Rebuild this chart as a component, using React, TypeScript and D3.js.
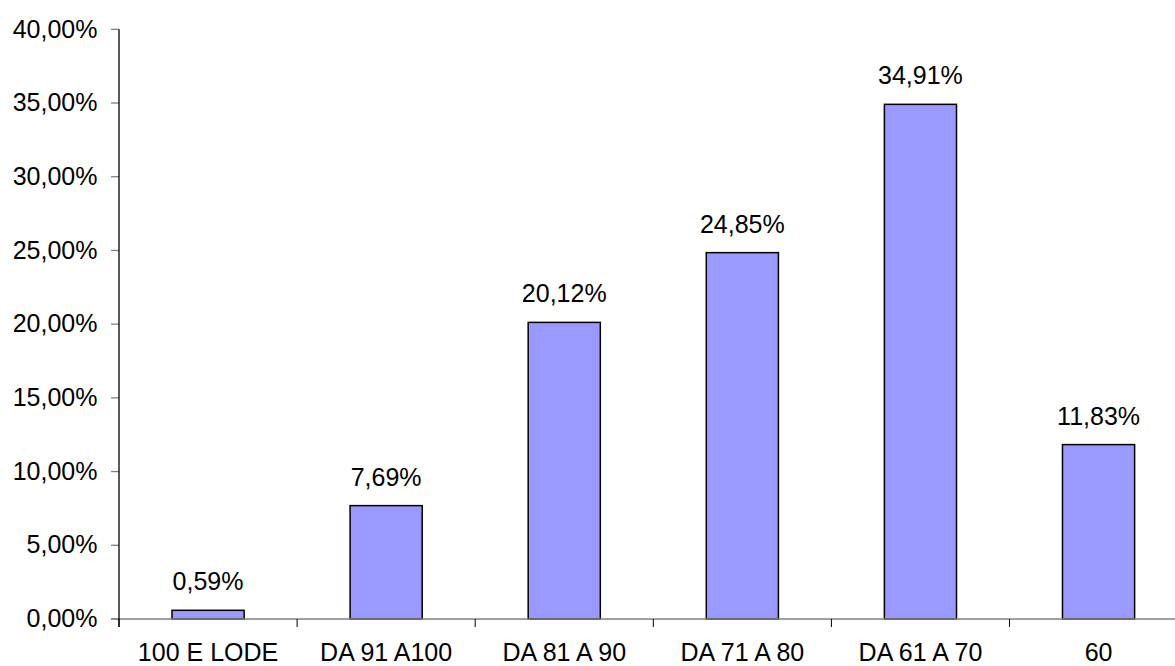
import React from "react";
import * as d3 from "d3";

const categories = ["100 E LODE", "DA 91 A100", "DA 81 A 90", "DA 71 A 80", "DA 61 A 70", "60"];
const values = [0.59, 7.69, 20.12, 24.85, 34.91, 11.83];
const yTicks = [0, 5, 10, 15, 20, 25, 30, 35, 40];

const W = 1175;
const H = 666;
const left = 119;
const top = 29.3;
const bottom = 619;
const bandW = 178.1;
const FS = 25;

const fmt = (v: number) => v.toFixed(2).replace(".", ",") + "%";

export default function App() {
  const x = d3
    .scaleBand<string>()
    .domain(categories)
    .range([left, left + bandW * categories.length])
    .paddingInner(0.595)
    .paddingOuter(0.595 / 2);
  const y = d3.scaleLinear().domain([0, 40]).range([bottom, top]);
  const font = "'Liberation Sans', Arial, sans-serif";
  const boundaries = d3.range(categories.length + 1).map((i) => left + i * bandW);

  return (
    <svg
      width={W}
      height={H}
      style={{ position: "absolute", left: 0, top: 0, background: "#fff" }}
      fontFamily={font}
    >
      {yTicks.map((t) => (
        <g key={t}>
          <line x1={111} x2={left} y1={y(t)} y2={y(t)} stroke="#808080" strokeWidth={1.3} />
          <text x={97.5} y={y(t) + 8.2} textAnchor="end" fontSize={FS} fill="#000">
            {fmt(t)}
          </text>
        </g>
      ))}
      {categories.map((c, i) => {
        const v = values[i];
        const bx = x(c)!;
        return (
          <g key={c}>
            <rect
              x={bx}
              y={y(v)}
              width={x.bandwidth()}
              height={bottom - y(v)}
              fill="#9999FF"
              stroke="#000"
              strokeWidth={1.5}
            />
            <text
              x={bx + x.bandwidth() / 2}
              y={y(v) - 20}
              textAnchor="middle"
              fontSize={FS}
              fill="#000"
            >
              {fmt(v)}
            </text>
            <text
              x={bx + x.bandwidth() / 2}
              y={660.5}
              textAnchor="middle"
              fontSize={FS}
              fill="#000"
            >
              {c}
            </text>
          </g>
        );
      })}
      <line x1={111} x2={W} y1={bottom} y2={bottom} stroke="#808080" strokeWidth={1.5} />
      {boundaries.map((b, i) => (
        <line key={i} x1={b} x2={b} y1={bottom} y2={bottom + 8} stroke="#000" strokeWidth={1} />
      ))}
      <line x1={left} x2={left} y1={top} y2={bottom + 8} stroke="#000" strokeWidth={1.3} />
    </svg>
  );
}
